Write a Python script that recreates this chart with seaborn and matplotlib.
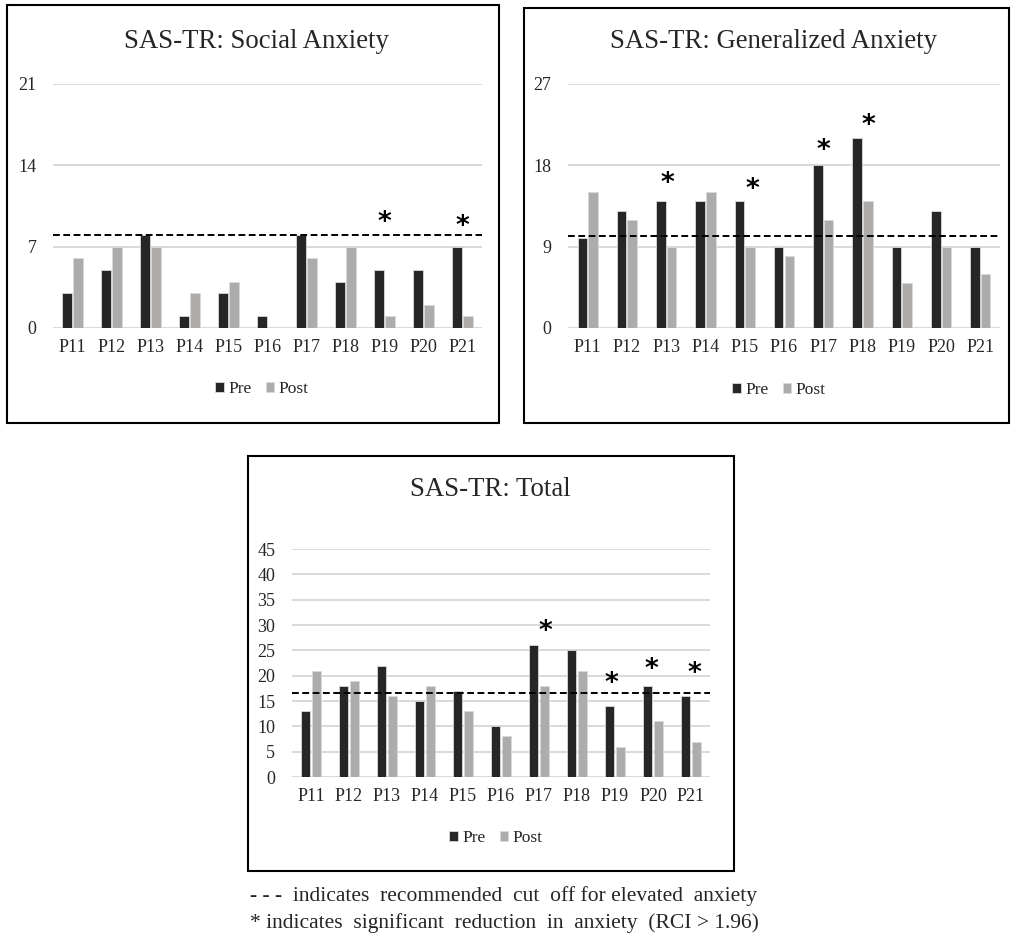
import numpy as np
import pandas as pd
import matplotlib
matplotlib.use("Agg")
import matplotlib.pyplot as plt
from matplotlib.patches import Rectangle
import seaborn as sns

# ---------------- data ----------------
participants = ["P11", "P12", "P13", "P14", "P15", "P16", "P17", "P18", "P19", "P20", "P21"]

social_pre = [3, 5, 8, 1, 3, 1, 8, 4, 5, 5, 7]
social_post = [6, 7, 7, 3, 4, 0, 6, 7, 1, 2, 1]
social_cutoff = 8
social_ticks = [0, 7, 14, 21]
social_stars = ["P19", "P21"]
social_star_y = [9.0, 8.7]
social_star_dx = [0.0, 0.0]

gen_pre = [10, 13, 14, 14, 14, 9, 18, 21, 9, 13, 9]
gen_post = [15, 12, 9, 15, 9, 8, 12, 14, 5, 9, 6]
gen_cutoff = 10.2
gen_ticks = [0, 9, 18, 27]
gen_stars = ["P13", "P15", "P17", "P18"]
gen_star_y = [15.9, 15.3, 19.6, 22.4]
gen_star_dx = [0.04, 0.19, 0.0, 0.15]

total_pre = [13, 18, 22, 15, 17, 10, 26, 25, 14, 18, 16]
total_post = [21, 19, 16, 18, 13, 8, 18, 21, 6, 11, 7]
total_cutoff = 16.6
total_ticks = [0, 5, 10, 15, 20, 25, 30, 35, 40, 45]
total_stars = ["P17", "P19", "P20", "P21"]
total_star_y = [28.7, 18.4, 21.1, 20.3]
total_star_dx = [0.16, -0.1, -0.05, 0.09]

titles = ["SAS-TR: Social Anxiety", "SAS-TR: Generalized Anxiety", "SAS-TR: Total"]
series_names = ["Pre", "Post"]
notes = ["- - -  indicates  recommended  cut  off for elevated  anxiety",
         "* indicates  significant  reduction  in  anxiety  (RCI > 1.96)"]

# ---------------- style ----------------
sns.set_theme(style="white")
plt.rcParams["font.family"] = ["Liberation Serif", "DejaVu Serif"]

W, H = 1015, 938
fig = plt.figure(figsize=(W / 100, H / 100), dpi=100)
fig.patch.set_facecolor("white")

palette = {"Pre": "#262626", "Post": "#AEABAB"}


def fx(px):
    return px / W


def fy(py):
    return 1 - py / H


def panel(left, right, y0, ytop, pre, post, cutoff, ticks, stars, star_y, star_dx,
          title, title_xy, legend_xy, box):
    ax = fig.add_axes([fx(left), fy(y0), fx(right - left), (y0 - ytop) / H])
    df = pd.DataFrame({
        "participant": participants * 2,
        "value": list(pre) + list(post),
        "series": [series_names[0]] * len(pre) + [series_names[1]] * len(post),
    })
    sns.barplot(data=df, x="participant", y="value", hue="series", palette=palette,
                width=0.54, gap=0.1, edgecolor="#D9D9D9", linewidth=0.6,
                ax=ax, errorbar=None, saturation=1)
    ax.set_xlim(-0.5, len(participants) - 0.5)
    ax.set_ylim(ticks[0], ticks[-1])
    ax.set_yticks(ticks)
    ax.set_yticklabels([str(t) for t in ticks])
    ax.grid(axis="y", color="#D9D9D9", linewidth=1.4)
    ax.grid(axis="x", visible=False)
    ax.set_axisbelow(True)
    for s in ax.spines.values():
        s.set_visible(False)
    ax.tick_params(axis="y", length=0, pad=12, labelsize=13)
    ax.tick_params(axis="x", length=0, pad=8, labelsize=13)
    ax.set_xlabel("")
    ax.set_ylabel("")
    ax.set_facecolor("none")
    ax.axhline(cutoff, color="black", linestyle=(0, (3.5, 1.8)), linewidth=1.4, zorder=5)
    for name, yv, dx in zip(stars, star_y, star_dx):
        xi = participants.index(name) + dx
        ax.text(xi, yv, "*", ha="center", va="center", fontsize=19,
                family=["DejaVu Sans"], fontweight="bold", color="black", zorder=6)
    handles, labels = ax.get_legend_handles_labels()
    ax.legend(handles, labels, loc="center", bbox_to_anchor=(fx(legend_xy[0]), fy(legend_xy[1])),
              bbox_transform=fig.transFigure, ncol=2, frameon=False, fontsize=12.5,
              handlelength=0.5, handleheight=0.5, handletextpad=0.25, columnspacing=0.8)
    fig.text(fx(title_xy[0]), fy(title_xy[1]), title, ha="center", va="center", fontsize=19.3)
    bx0, by0, bx1, by1 = box
    fig.add_artist(Rectangle((fx(bx0), fy(by1)), fx(bx1 - bx0), (by1 - by0) / H,
                             transform=fig.transFigure, fill=False, edgecolor="black",
                             linewidth=1.5))
    return ax


panel(53, 482, 328, 84, social_pre, social_post, social_cutoff, social_ticks,
      social_stars, social_star_y, social_star_dx, titles[0], (256, 42), (262, 389),
      (7, 5, 499, 423))
panel(568, 1000, 328, 84, gen_pre, gen_post, gen_cutoff, gen_ticks,
      gen_stars, gen_star_y, gen_star_dx, titles[1], (774, 42), (779, 390),
      (524, 8, 1009, 423))
panel(292, 710, 777, 549, total_pre, total_post, total_cutoff, total_ticks,
      total_stars, total_star_y, total_star_dx, titles[2], (490, 490), (496, 838),
      (248, 456, 734, 871))

fig.text(fx(250), fy(896), notes[0], ha="left", va="center", fontsize=15.5)
fig.text(fx(250), fy(923), notes[1], ha="left", va="center", fontsize=15.5)

fig.savefig("out.png", dpi=100, facecolor="white")
